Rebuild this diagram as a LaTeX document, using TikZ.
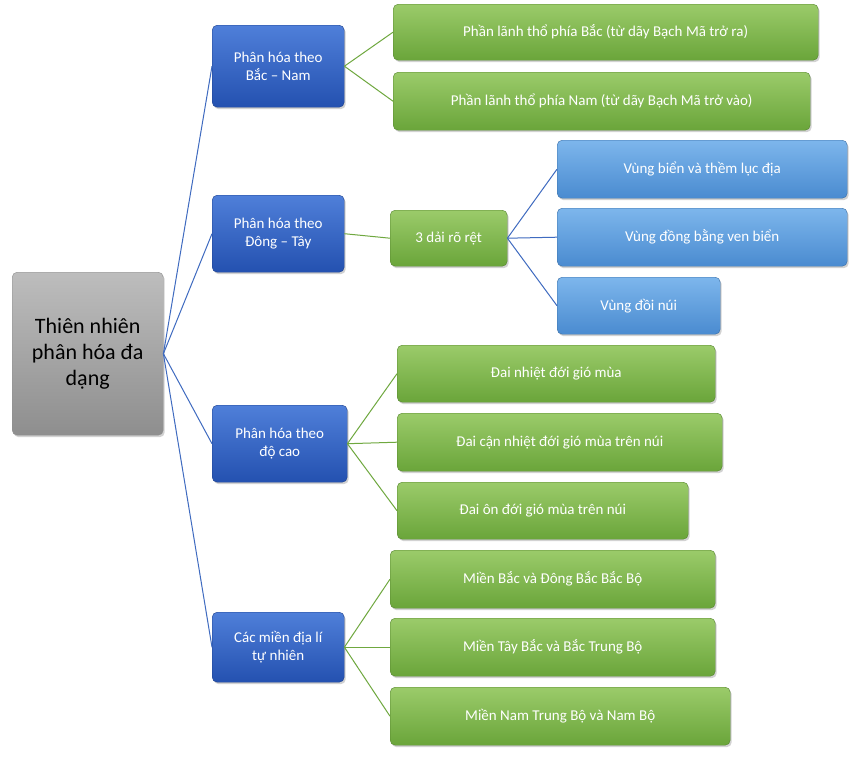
\documentclass[tikz,border=0pt]{standalone}
\usepackage{fontspec}
\setmainfont{Carlito}
\usetikzlibrary{shadows}
\definecolor{gtop}{HTML}{9BCB6A}\definecolor{gbot}{HTML}{6AA53A}
\definecolor{btop}{HTML}{4F7FD9}\definecolor{bbot}{HTML}{2451B0}
\definecolor{ltop}{HTML}{7DB6EC}\definecolor{lbot}{HTML}{4A8BD0}
\definecolor{rtop}{HTML}{BDBDBD}\definecolor{rbot}{HTML}{8E8E8E}
\definecolor{gline}{HTML}{6FA83F}\definecolor{bline}{HTML}{3F6BC0}
\tikzset{x=1pt,y=-1pt,
 box/.style={rounded corners=5pt,text=white,font=\fontsize{15}{18}\selectfont,align=center,anchor=north west,inner sep=0pt,drop shadow={shadow xshift=1.5pt,shadow yshift=-2pt,opacity=0.35}},
 gbox/.style={box,top color=gtop,bottom color=gbot,draw=gbot!80!black,line width=0.4pt},
 bbox/.style={box,top color=btop,bottom color=bbot,draw=bbot!80!black,line width=0.4pt},
 lbox/.style={box,top color=ltop,bottom color=lbot,draw=lbot!80!black,line width=0.4pt},
 rbox/.style={box,top color=rtop,bottom color=rbot,draw=rbot,text=black,font=\fontsize{22}{26}\selectfont},
 gl/.style={gline,line width=1pt},
 bl/.style={bline,line width=1pt}}
\newcommand{\bx}[7]{\node[#1,minimum width=#4-#2,minimum height=#5-#3] (#6) at (#2,#3) {#7};}
\begin{document}
\begin{tikzpicture}
\useasboundingbox[fill=white] (0,0) rectangle (857,756);
\bx{rbox}{12}{272}{163}{435}{root}{Thiên nhiên\\phân hóa đa\\dạng}
\bx{bbox}{212}{25}{344}{107}{a}{Phân hóa theo\\Bắc – Nam}
\bx{bbox}{212}{195}{344}{272}{b}{Phân hóa theo\\Đông – Tây}
\bx{bbox}{212}{405}{347}{482}{c}{Phân hóa theo\\độ cao}
\bx{bbox}{212}{612}{344}{682}{d}{Các miền địa lí\\tự nhiên}
\bx{gbox}{393}{4}{818}{60}{a1}{Phần lãnh thổ phía Bắc (từ dãy Bạch Mã trở ra)}
\bx{gbox}{393}{72}{810}{130}{a2}{Phần lãnh thổ phía Nam (từ dãy Bạch Mã trở vào)}
\bx{gbox}{390}{210}{507}{266}{b1}{3 dải rõ rệt}
\bx{lbox}{557}{140}{847}{198}{b11}{Vùng biển và thềm lục địa}
\bx{lbox}{557}{208}{847}{266}{b12}{Vùng đồng bằng ven biển}
\bx{lbox}{557}{277}{720}{334}{b13}{Vùng đồi núi}
\bx{gbox}{397}{345}{715}{402}{c1}{Đai nhiệt đới gió mùa}
\bx{gbox}{397}{413}{722}{471}{c2}{Đai cận nhiệt đới gió mùa trên núi}
\bx{gbox}{397}{482}{688}{539}{c3}{Đai ôn đới gió mùa trên núi}
\bx{gbox}{390}{550}{715}{608}{d1}{Miền Bắc và Đông Bắc Bắc Bộ}
\bx{gbox}{390}{618}{715}{676}{d2}{Miền Tây Bắc và Bắc Trung Bộ}
\bx{gbox}{390}{687}{730}{745}{d3}{Miền Nam Trung Bộ và Nam Bộ}
\foreach \t in {a,b,c,d} \draw[bl] (root.east) -- (\t.west);
\foreach \t in {a1,a2} \draw[gl] (a.east) -- (\t.west);
\draw[gl] (b.east) -- (b1.west);
\foreach \t in {c1,c2,c3} \draw[gl] (c.east) -- (\t.west);
\foreach \t in {d1,d2,d3} \draw[gl] (d.east) -- (\t.west);
\foreach \t in {b11,b12,b13} \draw[bl] (b1.east) -- (\t.west);
\end{tikzpicture}
\end{document}
